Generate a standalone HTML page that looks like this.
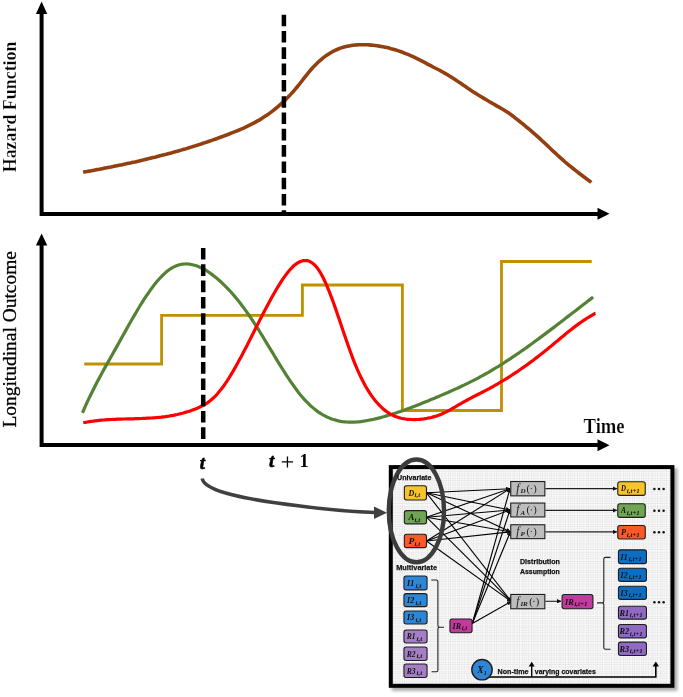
<!DOCTYPE html>
<html><head><meta charset="utf-8"><style>
html,body{margin:0;padding:0;background:#fff;width:683px;height:697px;overflow:hidden}
svg{display:block;will-change:transform}

.s{font-family:"Liberation Sans",sans-serif}
</style></head><body>
<svg width="683" height="697" viewBox="0 0 683 697">
<path d="M41.6,13 V214 H598" fill="none" stroke="#000" stroke-width="4"/>
<path d="M35.9,14 L41.6,1.5 L47.3,14 Z" fill="#000"/>
<path d="M597.5,207.8 L609.5,213.8 L597.5,219.8 Z" fill="#000"/>
<path d="M41.6,244 V445 H598" fill="none" stroke="#000" stroke-width="4"/>
<path d="M35.9,245.5 L41.6,233.5 L47.3,245.5 Z" fill="#000"/>
<path d="M597.5,439.2 L609.5,445.2 L597.5,451.2 Z" fill="#000"/>
<path d="M83.1,172.2 L85.1,171.8 L87.1,171.5 L89.1,171.1 L91.1,170.8 L93.1,170.4 L95.1,170.0 L97.1,169.6 L99.1,169.3 L101.1,168.9 L103.1,168.5 L105.1,168.1 L107.1,167.7 L109.1,167.3 L111.1,167.0 L113.1,166.6 L115.1,166.1 L117.1,165.7 L119.1,165.3 L121.1,164.9 L123.1,164.5 L125.1,164.1 L127.1,163.6 L129.1,163.2 L131.1,162.8 L133.1,162.3 L135.1,161.9 L137.1,161.4 L139.1,161.0 L141.1,160.5 L143.1,160.1 L145.1,159.6 L147.1,159.1 L149.1,158.6 L151.1,158.1 L153.1,157.6 L155.1,157.2 L157.1,156.6 L159.1,156.1 L161.1,155.6 L163.1,155.1 L165.1,154.6 L167.1,154.0 L169.1,153.5 L171.1,153.0 L173.1,152.4 L175.1,151.8 L177.1,151.3 L179.1,150.7 L181.1,150.1 L183.1,149.5 L185.1,149.0 L187.1,148.4 L189.1,147.7 L191.1,147.1 L193.1,146.5 L195.1,145.9 L197.1,145.3 L199.1,144.6 L201.1,144.0 L203.1,143.3 L205.1,142.6 L207.1,142.0 L209.1,141.3 L211.1,140.6 L213.1,139.9 L215.1,139.2 L217.1,138.5 L219.1,137.7 L221.1,137.0 L223.1,136.3 L225.1,135.5 L227.1,134.8 L229.1,134.0 L231.1,133.2 L233.1,132.4 L235.1,131.6 L237.1,130.8 L239.1,130.0 L241.1,129.1 L243.1,128.3 L245.1,127.3 L247.1,126.4 L249.1,125.4 L251.1,124.4 L253.1,123.4 L255.1,122.3 L257.1,121.2 L259.1,120.1 L261.1,118.9 L263.1,117.6 L265.1,116.3 L267.1,115.0 L269.1,113.6 L271.1,112.1 L273.1,110.6 L275.1,109.0 L277.1,107.4 L279.1,105.6 L281.1,103.9 L283.1,102.0 L285.1,100.1 L287.1,98.1 L289.1,96.1 L291.1,93.9 L293.1,91.7 L295.1,89.4 L297.1,87.0 L299.1,84.5 L301.1,82.0 L303.1,79.4 L305.1,76.8 L307.1,74.3 L309.1,71.8 L311.1,69.5 L313.1,67.3 L315.1,65.2 L317.1,63.2 L319.1,61.3 L321.1,59.6 L323.1,57.9 L325.1,56.4 L327.1,55.0 L329.1,53.7 L331.1,52.5 L333.1,51.4 L335.1,50.4 L337.1,49.5 L339.1,48.7 L341.1,47.9 L343.1,47.3 L345.1,46.7 L347.1,46.3 L349.1,45.9 L351.1,45.5 L353.1,45.2 L355.1,45.0 L357.1,44.9 L359.1,44.8 L361.1,44.7 L363.1,44.7 L365.1,44.7 L367.1,44.8 L369.1,44.9 L371.1,45.1 L373.1,45.3 L375.1,45.5 L377.1,45.8 L379.1,46.1 L381.1,46.4 L383.1,46.8 L385.1,47.2 L387.1,47.6 L389.1,48.1 L391.1,48.7 L393.1,49.2 L395.1,49.8 L397.1,50.4 L399.1,51.1 L401.1,51.8 L403.1,52.5 L405.1,53.3 L407.1,54.1 L409.1,54.9 L411.1,55.8 L413.1,56.7 L415.1,57.6 L417.1,58.6 L419.1,59.6 L421.1,60.6 L423.1,61.7 L425.1,62.7 L427.1,63.8 L429.1,64.8 L431.1,65.9 L433.1,67.0 L435.1,68.0 L437.1,69.0 L439.1,70.0 L441.1,71.1 L443.1,72.2 L445.1,73.4 L447.1,74.5 L449.1,75.8 L451.1,77.0 L453.1,78.3 L455.1,79.6 L457.1,80.9 L459.1,82.3 L461.1,83.6 L463.1,85.0 L465.1,86.3 L467.1,87.7 L469.1,89.1 L471.1,90.4 L473.1,91.7 L475.1,93.0 L477.1,94.3 L479.1,95.5 L481.1,96.7 L483.1,97.9 L485.1,99.1 L487.1,100.3 L489.1,101.5 L491.1,102.6 L493.1,103.8 L495.1,104.9 L497.1,106.1 L499.1,107.2 L501.1,108.3 L503.1,109.5 L505.1,110.7 L507.1,112.0 L509.1,113.3 L511.1,114.7 L513.1,116.2 L515.1,117.8 L517.1,119.4 L519.1,121.0 L521.1,122.6 L523.1,124.2 L525.1,125.8 L527.1,127.5 L529.1,129.1 L531.1,130.8 L533.1,132.6 L535.1,134.3 L537.1,136.1 L539.1,137.9 L541.1,139.8 L543.1,141.7 L545.1,143.5 L547.1,145.4 L549.1,147.3 L551.1,149.2 L553.1,151.1 L555.1,152.9 L557.1,154.8 L559.1,156.6 L561.1,158.4 L563.1,160.2 L565.1,162.0 L567.1,163.7 L569.1,165.3 L571.1,166.9 L573.1,168.5 L575.1,170.1 L577.1,171.7 L579.1,173.2 L581.1,174.7 L583.1,176.2 L585.1,177.7 L587.1,179.2 L589.1,180.8 L591.1,182.3 L591.2,182.4" fill="none" stroke="#933f10" stroke-width="3.6" stroke-linecap="butt"/>
<path d="M84.3,364 H161.6 V315.3 H302.4 V285 H402.4 V410.5 H501.5 V261.5 H591.7" fill="none" stroke="#bf9000" stroke-width="2.8"/>
<path d="M82.5,412.8 L84.5,408.2 L86.5,403.7 L88.5,399.4 L90.5,395.2 L92.5,391.2 L94.5,387.2 L96.5,383.3 L98.5,379.5 L100.5,375.8 L102.5,372.1 L104.5,368.4 L106.5,364.9 L108.5,361.3 L110.5,357.7 L112.5,354.2 L114.5,350.6 L116.5,347.1 L118.5,343.5 L120.5,339.9 L122.5,336.3 L124.5,332.7 L126.5,329.1 L128.5,325.5 L130.5,322.0 L132.5,318.5 L134.5,315.1 L136.5,311.7 L138.5,308.3 L140.5,305.0 L142.5,301.8 L144.5,298.7 L146.5,295.7 L148.5,292.8 L150.5,289.9 L152.5,287.2 L154.5,284.6 L156.5,282.1 L158.5,279.7 L160.5,277.5 L162.5,275.5 L164.5,273.6 L166.5,271.8 L168.5,270.2 L170.5,268.8 L172.5,267.6 L174.5,266.6 L176.5,265.7 L178.5,265.0 L180.5,264.5 L182.5,264.2 L184.5,264.0 L186.5,263.9 L188.5,264.0 L190.5,264.3 L192.5,264.7 L194.5,265.2 L196.5,265.8 L198.5,266.6 L200.5,267.5 L202.5,268.5 L204.5,269.5 L206.5,270.7 L208.5,272.0 L210.5,273.4 L212.5,274.9 L214.5,276.4 L216.5,278.0 L218.5,279.7 L220.5,281.5 L222.5,283.3 L224.5,285.3 L226.5,287.3 L228.5,289.4 L230.5,291.5 L232.5,293.8 L234.5,296.1 L236.5,298.5 L238.5,301.0 L240.5,303.5 L242.5,306.2 L244.5,308.9 L246.5,311.6 L248.5,314.5 L250.5,317.4 L252.5,320.4 L254.5,323.5 L256.5,326.6 L258.5,329.7 L260.5,333.0 L262.5,336.2 L264.5,339.5 L266.5,342.8 L268.5,346.1 L270.5,349.4 L272.5,352.7 L274.5,356.0 L276.5,359.3 L278.5,362.6 L280.5,365.8 L282.5,369.0 L284.5,372.2 L286.5,375.3 L288.5,378.3 L290.5,381.3 L292.5,384.2 L294.5,387.0 L296.5,389.7 L298.5,392.4 L300.5,394.9 L302.5,397.3 L304.5,399.6 L306.5,401.7 L308.5,403.7 L310.5,405.7 L312.5,407.4 L314.5,409.1 L316.5,410.6 L318.5,412.1 L320.5,413.4 L322.5,414.6 L324.5,415.7 L326.5,416.7 L328.5,417.6 L330.5,418.5 L332.5,419.2 L334.5,419.8 L336.5,420.4 L338.5,420.9 L340.5,421.3 L342.5,421.6 L344.5,421.8 L346.5,422.0 L348.5,422.1 L350.5,422.2 L352.5,422.2 L354.5,422.1 L356.5,422.0 L358.5,421.8 L360.5,421.6 L362.5,421.3 L364.5,421.0 L366.5,420.7 L368.5,420.3 L370.5,419.9 L372.5,419.5 L374.5,419.1 L376.5,418.6 L378.5,418.1 L380.5,417.6 L382.5,417.0 L384.5,416.5 L386.5,415.9 L388.5,415.3 L390.5,414.7 L392.5,414.1 L394.5,413.4 L396.5,412.8 L398.5,412.1 L400.5,411.4 L402.5,410.7 L404.5,410.0 L406.5,409.3 L408.5,408.5 L410.5,407.8 L412.5,407.0 L414.5,406.3 L416.5,405.5 L418.5,404.7 L420.5,403.9 L422.5,403.1 L424.5,402.3 L426.5,401.5 L428.5,400.7 L430.5,399.8 L432.5,399.0 L434.5,398.2 L436.5,397.3 L438.5,396.5 L440.5,395.6 L442.5,394.8 L444.5,393.9 L446.5,393.1 L448.5,392.2 L450.5,391.3 L452.5,390.4 L454.5,389.5 L456.5,388.6 L458.5,387.7 L460.5,386.8 L462.5,385.8 L464.5,384.9 L466.5,383.9 L468.5,382.9 L470.5,381.9 L472.5,380.9 L474.5,379.9 L476.5,378.9 L478.5,377.8 L480.5,376.7 L482.5,375.6 L484.5,374.5 L486.5,373.4 L488.5,372.3 L490.5,371.1 L492.5,369.9 L494.5,368.7 L496.5,367.5 L498.5,366.3 L500.5,365.0 L502.5,363.8 L504.5,362.5 L506.5,361.2 L508.5,359.9 L510.5,358.6 L512.5,357.2 L514.5,355.9 L516.5,354.5 L518.5,353.2 L520.5,351.8 L522.5,350.4 L524.5,349.0 L526.5,347.6 L528.5,346.1 L530.5,344.7 L532.5,343.3 L534.5,341.8 L536.5,340.3 L538.5,338.9 L540.5,337.4 L542.5,335.9 L544.5,334.4 L546.5,332.9 L548.5,331.4 L550.5,329.9 L552.5,328.4 L554.5,326.9 L556.5,325.3 L558.5,323.8 L560.5,322.3 L562.5,320.7 L564.5,319.2 L566.5,317.6 L568.5,316.1 L570.5,314.6 L572.5,313.0 L574.5,311.5 L576.5,309.9 L578.5,308.4 L580.5,306.8 L582.5,305.3 L584.5,303.7 L586.5,302.2 L588.5,300.6 L590.5,299.1 L592.5,297.6 L593.1,297.1" fill="none" stroke="#548235" stroke-width="3.2"/>
<path d="M83.3,422.7 L85.3,422.3 L87.3,422.0 L89.3,421.6 L91.3,421.3 L93.3,421.1 L95.3,420.8 L97.3,420.6 L99.3,420.4 L101.3,420.2 L103.3,420.0 L105.3,419.8 L107.3,419.7 L109.3,419.6 L111.3,419.5 L113.3,419.4 L115.3,419.3 L117.3,419.2 L119.3,419.1 L121.3,419.1 L123.3,419.0 L125.3,419.0 L127.3,418.9 L129.3,418.9 L131.3,418.8 L133.3,418.8 L135.3,418.7 L137.3,418.6 L139.3,418.6 L141.3,418.5 L143.3,418.4 L145.3,418.3 L147.3,418.2 L149.3,418.1 L151.3,418.0 L153.3,417.8 L155.3,417.7 L157.3,417.5 L159.3,417.3 L161.3,417.1 L163.3,416.8 L165.3,416.6 L167.3,416.3 L169.3,416.0 L171.3,415.6 L173.3,415.3 L175.3,414.9 L177.3,414.5 L179.3,414.0 L181.3,413.5 L183.3,413.0 L185.3,412.4 L187.3,411.8 L189.3,411.2 L191.3,410.5 L193.3,409.7 L195.3,409.0 L197.3,408.2 L199.3,407.3 L201.3,406.3 L203.3,405.3 L205.3,404.1 L207.3,402.8 L209.3,401.4 L211.3,399.8 L213.3,398.0 L215.3,396.1 L217.3,394.0 L219.3,391.6 L221.3,389.1 L223.3,386.5 L225.3,383.6 L227.3,380.6 L229.3,377.5 L231.3,374.2 L233.3,370.9 L235.3,367.4 L237.3,363.8 L239.3,360.1 L241.3,356.4 L243.3,352.6 L245.3,348.8 L247.3,344.9 L249.3,340.9 L251.3,337.0 L253.3,333.0 L255.3,329.0 L257.3,325.1 L259.3,321.1 L261.3,317.2 L263.3,313.3 L265.3,309.5 L267.3,305.7 L269.3,301.9 L271.3,298.3 L273.3,294.7 L275.3,291.2 L277.3,287.8 L279.3,284.6 L281.3,281.4 L283.3,278.4 L285.3,275.6 L287.3,273.0 L289.3,270.5 L291.3,268.3 L293.3,266.3 L295.3,264.6 L297.3,263.1 L299.3,262.0 L301.3,261.2 L303.3,260.7 L305.3,260.5 L307.3,260.7 L309.3,261.3 L311.3,262.4 L313.3,263.8 L315.3,265.7 L317.3,268.0 L319.3,270.9 L321.3,274.2 L323.3,278.0 L325.3,282.2 L327.3,286.8 L329.3,291.7 L331.3,296.9 L333.3,302.3 L335.3,307.9 L337.3,313.7 L339.3,319.6 L341.3,325.5 L343.3,331.4 L345.3,337.3 L347.3,343.1 L349.3,348.8 L351.3,354.3 L353.3,359.6 L355.3,364.6 L357.3,369.4 L359.3,373.8 L361.3,378.1 L363.3,382.0 L365.3,385.7 L367.3,389.2 L369.3,392.4 L371.3,395.4 L373.3,398.1 L375.3,400.7 L377.3,403.0 L379.3,405.2 L381.3,407.2 L383.3,409.0 L385.3,410.6 L387.3,412.0 L389.3,413.3 L391.3,414.5 L393.3,415.5 L395.3,416.4 L397.3,417.1 L399.3,417.7 L401.3,418.3 L403.3,418.7 L405.3,419.0 L407.3,419.3 L409.3,419.4 L411.3,419.5 L413.3,419.6 L415.3,419.6 L417.3,419.5 L419.3,419.4 L421.3,419.2 L423.3,419.0 L425.3,418.7 L427.3,418.3 L429.3,417.9 L431.3,417.5 L433.3,416.9 L435.3,416.4 L437.3,415.7 L439.3,415.0 L441.3,414.2 L443.3,413.3 L445.3,412.4 L447.3,411.4 L449.3,410.3 L451.3,409.2 L453.3,408.0 L455.3,406.9 L457.3,405.7 L459.3,404.5 L461.3,403.4 L463.3,402.2 L465.3,401.1 L467.3,400.0 L469.3,398.9 L471.3,397.8 L473.3,396.8 L475.3,395.8 L477.3,394.8 L479.3,393.8 L481.3,392.7 L483.3,391.7 L485.3,390.7 L487.3,389.6 L489.3,388.6 L491.3,387.5 L493.3,386.4 L495.3,385.2 L497.3,384.1 L499.3,382.9 L501.3,381.7 L503.3,380.5 L505.3,379.3 L507.3,378.1 L509.3,376.8 L511.3,375.5 L513.3,374.2 L515.3,372.9 L517.3,371.6 L519.3,370.2 L521.3,368.8 L523.3,367.4 L525.3,366.0 L527.3,364.6 L529.3,363.1 L531.3,361.6 L533.3,360.2 L535.3,358.6 L537.3,357.1 L539.3,355.6 L541.3,354.0 L543.3,352.4 L545.3,350.8 L547.3,349.2 L549.3,347.5 L551.3,345.9 L553.3,344.2 L555.3,342.5 L557.3,340.9 L559.3,339.2 L561.3,337.5 L563.3,335.9 L565.3,334.2 L567.3,332.6 L569.3,331.0 L571.3,329.4 L573.3,327.9 L575.3,326.4 L577.3,324.9 L579.3,323.4 L581.3,322.0 L583.3,320.6 L585.3,319.3 L587.3,318.0 L589.3,316.8 L591.3,315.6 L593.3,314.5 L595.3,313.4 L595.4,313.4" fill="none" stroke="#ff0000" stroke-width="3.2"/>
<line x1="283.9" y1="14.7" x2="283.9" y2="214" stroke="#000" stroke-width="4.5" stroke-dasharray="11.6,4.7"/>
<line x1="203.2" y1="248" x2="203.2" y2="447" stroke="#000" stroke-width="4.5" stroke-dasharray="11.6,4.7"/>
<text x="0" y="0" transform="translate(16,172.3) rotate(-90)" font-family="Liberation Serif" font-weight="bold" font-size="19" fill="#000" stroke="#fff" stroke-width="0.2" paint-order="fill" textLength="130.8" lengthAdjust="spacingAndGlyphs">Hazard Function</text>
<text x="0" y="0" transform="translate(15.6,427.6) rotate(-90)" font-family="Liberation Serif" font-size="19.5" fill="#000" stroke="#000" stroke-width="0.3" textLength="176.5" lengthAdjust="spacingAndGlyphs">Longitudinal Outcome</text>
<text x="583.6" y="433.2" font-family="Liberation Serif" font-weight="bold" font-size="20" fill="#000" stroke="#fff" stroke-width="0.2" paint-order="fill" textLength="41" lengthAdjust="spacingAndGlyphs">Time</text>
<text x="199.8" y="468.7" font-family="Liberation Serif" font-weight="bold" font-style="italic" font-size="19" fill="#000" stroke="#000" stroke-width="0.6">t</text>
<text x="268.9" y="467.4" font-family="Liberation Serif" font-weight="bold" font-style="italic" font-size="19" fill="#000" stroke="#000" stroke-width="0.6">t</text>
<path d="M281.8,461.9 H293.1 M287.45,456.6 V467.4" stroke="#000" stroke-width="1.3"/>
<text x="299.5" y="467.3" font-family="Liberation Serif" font-weight="bold" font-size="18.5" fill="#000">1</text>
<path d="M202.2,478.5 C204,492 250,500 300,506 C330,510 355,512 375,512.4" fill="none" stroke="#404040" stroke-width="3.5"/>
<path d="M374,506.5 L387,512.7 L374,519 Z" fill="#404040"/>
<defs><pattern id="grid" x="393" y="469" width="9.2" height="9.2" patternUnits="userSpaceOnUse"><rect width="9.2" height="9.2" fill="#fdfdfd"/><path d="M2.3,0 V9.2 M4.6,0 V9.2 M6.9,0 V9.2 M0,2.3 H9.2 M0,4.6 H9.2 M0,6.9 H9.2" stroke="#e6e6e6" stroke-width="0.7"/><path d="M0,0 V9.2 M0,0 H9.2" stroke="#d9d9d9" stroke-width="0.8"/></pattern><filter id="sh" x="-5%" y="-5%" width="115%" height="115%"><feGaussianBlur stdDeviation="1.5"/></filter><marker id="ah" viewBox="0 0 6 6" refX="5.5" refY="3" markerWidth="4" markerHeight="4" orient="auto"><path d="M0,0 L6,3 L0,6 Z" fill="#111"/></marker></defs>
<rect x="391.8" y="468.1" width="285.59999999999997" height="222.69999999999993" fill="#888" filter="url(#sh)" opacity="0.7"/>
<rect x="390.8" y="467.1" width="281.59999999999997" height="218.69999999999993" fill="url(#grid)" stroke="#000" stroke-width="4"/>
<line x1="426.5" y1="492.8" x2="510" y2="488.7" stroke="#000" stroke-width="1.1" marker-end="url(#ah)"/>
<line x1="426.5" y1="492.8" x2="510" y2="510" stroke="#000" stroke-width="1.1" marker-end="url(#ah)"/>
<line x1="426.5" y1="492.8" x2="510.4" y2="531.8" stroke="#000" stroke-width="1.1" marker-end="url(#ah)"/>
<line x1="426.5" y1="492.8" x2="511.2" y2="601.5" stroke="#000" stroke-width="1.1" marker-end="url(#ah)"/>
<line x1="426.5" y1="517.2" x2="510" y2="488.7" stroke="#000" stroke-width="1.1" marker-end="url(#ah)"/>
<line x1="426.5" y1="517.2" x2="510" y2="510" stroke="#000" stroke-width="1.1" marker-end="url(#ah)"/>
<line x1="426.5" y1="517.2" x2="510.4" y2="531.8" stroke="#000" stroke-width="1.1" marker-end="url(#ah)"/>
<line x1="426.5" y1="517.2" x2="511.2" y2="601.5" stroke="#000" stroke-width="1.1" marker-end="url(#ah)"/>
<line x1="426.5" y1="541" x2="510" y2="488.7" stroke="#000" stroke-width="1.1" marker-end="url(#ah)"/>
<line x1="426.5" y1="541" x2="510" y2="510" stroke="#000" stroke-width="1.1" marker-end="url(#ah)"/>
<line x1="426.5" y1="541" x2="510.4" y2="531.8" stroke="#000" stroke-width="1.1" marker-end="url(#ah)"/>
<line x1="426.5" y1="541" x2="511.2" y2="601.5" stroke="#000" stroke-width="1.1" marker-end="url(#ah)"/>
<line x1="472.3" y1="623.5" x2="510" y2="488.7" stroke="#000" stroke-width="1.1" marker-end="url(#ah)"/>
<line x1="472.3" y1="623.5" x2="510" y2="510" stroke="#000" stroke-width="1.1" marker-end="url(#ah)"/>
<line x1="472.3" y1="623.5" x2="510.4" y2="531.8" stroke="#000" stroke-width="1.1" marker-end="url(#ah)"/>
<line x1="472.3" y1="623.5" x2="511.2" y2="601.5" stroke="#000" stroke-width="1.1" marker-end="url(#ah)"/>
<ellipse cx="416.4" cy="510.9" rx="27.6" ry="51.4" fill="none" stroke="#3c3c3c" stroke-width="4.4"/>
<rect x="404.35" y="485.75" width="22.10" height="14.30" rx="2.2" fill="#f7c42a" stroke="#1e1e1e" stroke-width="1.1"/>
<text x="408.5" y="495.8" font-family="Liberation Serif" font-style="italic" font-weight="bold" font-size="9" fill="#111" textLength="5.8" lengthAdjust="spacingAndGlyphs">D</text>
<text x="414.6" y="497.4" font-family="Liberation Serif" font-style="italic" font-weight="bold" font-size="6.6" fill="#111" textLength="5.6" lengthAdjust="spacingAndGlyphs">i,t</text>
<rect x="404.35" y="510.65" width="22.10" height="13.20" rx="2.2" fill="#6fa553" stroke="#1e1e1e" stroke-width="1.1"/>
<text x="408.5" y="520.1" font-family="Liberation Serif" font-style="italic" font-weight="bold" font-size="9" fill="#111" textLength="5.8" lengthAdjust="spacingAndGlyphs">A</text>
<text x="414.6" y="521.8" font-family="Liberation Serif" font-style="italic" font-weight="bold" font-size="6.6" fill="#111" textLength="5.6" lengthAdjust="spacingAndGlyphs">i,t</text>
<rect x="404.35" y="534.25" width="22.10" height="13.40" rx="2.2" fill="#fb5a28" stroke="#1e1e1e" stroke-width="1.1"/>
<text x="408.5" y="543.9" font-family="Liberation Serif" font-style="italic" font-weight="bold" font-size="9" fill="#111" textLength="5.8" lengthAdjust="spacingAndGlyphs">P</text>
<text x="414.6" y="545.5" font-family="Liberation Serif" font-style="italic" font-weight="bold" font-size="6.6" fill="#111" textLength="5.6" lengthAdjust="spacingAndGlyphs">i,t</text>
<rect x="403.95" y="576.05" width="23.10" height="13.80" rx="2.2" fill="#2e87d6" stroke="#1e1e1e" stroke-width="1.1"/>
<text x="407.1" y="585.9" font-family="Liberation Serif" font-style="italic" font-weight="bold" font-size="9" fill="#111" textLength="7.1" lengthAdjust="spacingAndGlyphs">I1</text>
<text x="415.4" y="587.5" font-family="Liberation Serif" font-style="italic" font-weight="bold" font-size="6.6" fill="#111" textLength="5.8" lengthAdjust="spacingAndGlyphs">i,t</text>
<rect x="403.95" y="593.65" width="23.10" height="13.00" rx="2.2" fill="#2e87d6" stroke="#1e1e1e" stroke-width="1.1"/>
<text x="407.1" y="603.1" font-family="Liberation Serif" font-style="italic" font-weight="bold" font-size="9" fill="#111" textLength="7.1" lengthAdjust="spacingAndGlyphs">I2</text>
<text x="415.4" y="604.7" font-family="Liberation Serif" font-style="italic" font-weight="bold" font-size="6.6" fill="#111" textLength="5.8" lengthAdjust="spacingAndGlyphs">i,t</text>
<rect x="403.95" y="611.05" width="23.10" height="13.00" rx="2.2" fill="#2e87d6" stroke="#1e1e1e" stroke-width="1.1"/>
<text x="407.1" y="620.4" font-family="Liberation Serif" font-style="italic" font-weight="bold" font-size="9" fill="#111" textLength="7.1" lengthAdjust="spacingAndGlyphs">I3</text>
<text x="415.4" y="622.0" font-family="Liberation Serif" font-style="italic" font-weight="bold" font-size="6.6" fill="#111" textLength="5.8" lengthAdjust="spacingAndGlyphs">i,t</text>
<rect x="403.95" y="629.95" width="23.10" height="13.10" rx="2.2" fill="#a47fc6" stroke="#1e1e1e" stroke-width="1.1"/>
<text x="406.7" y="639.4" font-family="Liberation Serif" font-style="italic" font-weight="bold" font-size="9" fill="#111" textLength="8.8" lengthAdjust="spacingAndGlyphs">R1</text>
<text x="416.4" y="641.0" font-family="Liberation Serif" font-style="italic" font-weight="bold" font-size="6.6" fill="#111" textLength="5.8" lengthAdjust="spacingAndGlyphs">i,t</text>
<rect x="403.95" y="647.05" width="23.10" height="13.40" rx="2.2" fill="#a47fc6" stroke="#1e1e1e" stroke-width="1.1"/>
<text x="406.7" y="656.6" font-family="Liberation Serif" font-style="italic" font-weight="bold" font-size="9" fill="#111" textLength="8.8" lengthAdjust="spacingAndGlyphs">R2</text>
<text x="416.4" y="658.2" font-family="Liberation Serif" font-style="italic" font-weight="bold" font-size="6.6" fill="#111" textLength="5.8" lengthAdjust="spacingAndGlyphs">i,t</text>
<rect x="403.95" y="664.05" width="23.10" height="13.50" rx="2.2" fill="#a47fc6" stroke="#1e1e1e" stroke-width="1.1"/>
<text x="406.7" y="673.7" font-family="Liberation Serif" font-style="italic" font-weight="bold" font-size="9" fill="#111" textLength="8.8" lengthAdjust="spacingAndGlyphs">R3</text>
<text x="416.4" y="675.3" font-family="Liberation Serif" font-style="italic" font-weight="bold" font-size="6.6" fill="#111" textLength="5.8" lengthAdjust="spacingAndGlyphs">i,t</text>
<rect x="510.75" y="481.55" width="34.10" height="14.30" rx="0" fill="#bdbdbd" stroke="#1e1e1e" stroke-width="1.1"/>
<text x="516.3" y="492.1" font-family="Liberation Serif" font-style="italic" font-size="11.5" fill="#1a1a1a">f</text>
<text x="520.6" y="493.3" font-family="Liberation Serif" font-style="italic" font-weight="bold" font-size="7" fill="#1a1a1a">D</text>
<text x="526.6" y="492.0" font-family="Liberation Serif" font-size="10.5" fill="#1a1a1a">(</text>
<circle cx="531.3" cy="488.5" r="0.6" fill="#1a1a1a"/>
<text x="533.2" y="492.0" font-family="Liberation Serif" font-size="10.5" fill="#1a1a1a">)</text>
<rect x="510.75" y="503.05" width="34.10" height="13.90" rx="0" fill="#bdbdbd" stroke="#1e1e1e" stroke-width="1.1"/>
<text x="516.3" y="513.4" font-family="Liberation Serif" font-style="italic" font-size="11.5" fill="#1a1a1a">f</text>
<text x="520.6" y="514.6" font-family="Liberation Serif" font-style="italic" font-weight="bold" font-size="7" fill="#1a1a1a">A</text>
<text x="526.6" y="513.3" font-family="Liberation Serif" font-size="10.5" fill="#1a1a1a">(</text>
<circle cx="531.3" cy="509.8" r="0.6" fill="#1a1a1a"/>
<text x="533.2" y="513.3" font-family="Liberation Serif" font-size="10.5" fill="#1a1a1a">)</text>
<rect x="510.75" y="524.75" width="34.10" height="13.90" rx="0" fill="#bdbdbd" stroke="#1e1e1e" stroke-width="1.1"/>
<text x="516.3" y="535.1" font-family="Liberation Serif" font-style="italic" font-size="11.5" fill="#1a1a1a">f</text>
<text x="520.6" y="536.3" font-family="Liberation Serif" font-style="italic" font-weight="bold" font-size="7" fill="#1a1a1a">P</text>
<text x="526.6" y="535.0" font-family="Liberation Serif" font-size="10.5" fill="#1a1a1a">(</text>
<circle cx="531.3" cy="531.5" r="0.6" fill="#1a1a1a"/>
<text x="533.2" y="535.0" font-family="Liberation Serif" font-size="10.5" fill="#1a1a1a">)</text>
<rect x="510.75" y="594.45" width="34.10" height="14.30" rx="0" fill="#bdbdbd" stroke="#1e1e1e" stroke-width="1.1"/>
<text x="516.3" y="605.0" font-family="Liberation Serif" font-style="italic" font-size="11.5" fill="#1a1a1a">f</text>
<text x="520.4" y="606.2" font-family="Liberation Serif" font-style="italic" font-weight="bold" font-size="7" fill="#1a1a1a">IR</text>
<text x="529.2" y="604.9" font-family="Liberation Serif" font-size="10.5" fill="#1a1a1a">(</text>
<circle cx="533.9" cy="601.4" r="0.6" fill="#1a1a1a"/>
<text x="535.8" y="604.9" font-family="Liberation Serif" font-size="10.5" fill="#1a1a1a">)</text>
<rect x="449.95" y="618.95" width="22.10" height="13.80" rx="2.2" fill="#c33a9f" stroke="#1e1e1e" stroke-width="1.1"/>
<text x="452.6" y="628.7" font-family="Liberation Serif" font-style="italic" font-weight="bold" font-size="9" fill="#111" textLength="8.5" lengthAdjust="spacingAndGlyphs">IR</text>
<text x="461.7" y="630.3" font-family="Liberation Serif" font-style="italic" font-weight="bold" font-size="6.6" fill="#111" textLength="5.5" lengthAdjust="spacingAndGlyphs">i,t</text>
<rect x="562.05" y="594.45" width="30.90" height="14.30" rx="2.2" fill="#c33a9f" stroke="#1e1e1e" stroke-width="1.1"/>
<text x="564.9" y="604.5" font-family="Liberation Serif" font-style="italic" font-weight="bold" font-size="9" fill="#111" textLength="8.8" lengthAdjust="spacingAndGlyphs">IR</text>
<text x="574.4" y="606.1" font-family="Liberation Serif" font-style="italic" font-weight="bold" font-size="6.6" fill="#111" textLength="13.2" lengthAdjust="spacingAndGlyphs">i,t+1</text>
<line x1="545.4" y1="488.6" x2="616.8" y2="488.6" stroke="#222" stroke-width="1.1" marker-end="url(#ah)"/>
<line x1="545.4" y1="510.4" x2="616.8" y2="510.4" stroke="#222" stroke-width="1.1" marker-end="url(#ah)"/>
<line x1="545.4" y1="531.9" x2="616.8" y2="531.9" stroke="#222" stroke-width="1.1" marker-end="url(#ah)"/>
<line x1="545.4" y1="601.3" x2="561" y2="601.3" stroke="#222" stroke-width="1.1" marker-end="url(#ah)"/>
<rect x="617.75" y="481.75" width="27.50" height="13.60" rx="2.2" fill="#f7c42a" stroke="#1e1e1e" stroke-width="1.1"/>
<text x="621.0" y="491.4" font-family="Liberation Serif" font-style="italic" font-weight="bold" font-size="9" fill="#111" textLength="5.0" lengthAdjust="spacingAndGlyphs">D</text>
<text x="626.8" y="493.0" font-family="Liberation Serif" font-style="italic" font-weight="bold" font-size="6.6" fill="#111" textLength="13.0" lengthAdjust="spacingAndGlyphs">i,t+1</text>
<rect x="617.75" y="503.75" width="27.50" height="13.60" rx="2.2" fill="#6fa553" stroke="#1e1e1e" stroke-width="1.1"/>
<text x="621.0" y="513.4" font-family="Liberation Serif" font-style="italic" font-weight="bold" font-size="9" fill="#111" textLength="5.0" lengthAdjust="spacingAndGlyphs">A</text>
<text x="626.8" y="515.0" font-family="Liberation Serif" font-style="italic" font-weight="bold" font-size="6.6" fill="#111" textLength="13.0" lengthAdjust="spacingAndGlyphs">i,t+1</text>
<rect x="617.75" y="525.45" width="27.50" height="13.60" rx="2.2" fill="#fb5a28" stroke="#1e1e1e" stroke-width="1.1"/>
<text x="621.0" y="535.1" font-family="Liberation Serif" font-style="italic" font-weight="bold" font-size="9" fill="#111" textLength="5.0" lengthAdjust="spacingAndGlyphs">P</text>
<text x="626.8" y="536.8" font-family="Liberation Serif" font-style="italic" font-weight="bold" font-size="6.6" fill="#111" textLength="13.0" lengthAdjust="spacingAndGlyphs">i,t+1</text>
<rect x="618.45" y="549.85" width="28.00" height="13.80" rx="2.2" fill="#0a6fc4" stroke="#1e1e1e" stroke-width="1.1"/>
<text x="620.6" y="559.6" font-family="Liberation Serif" font-style="italic" font-weight="bold" font-size="9" fill="#111" textLength="7.0" lengthAdjust="spacingAndGlyphs">I1</text>
<text x="628.7" y="561.2" font-family="Liberation Serif" font-style="italic" font-weight="bold" font-size="6.6" fill="#111" textLength="13.2" lengthAdjust="spacingAndGlyphs">i,t+1</text>
<rect x="618.45" y="568.25" width="28.00" height="13.10" rx="2.2" fill="#0a6fc4" stroke="#1e1e1e" stroke-width="1.1"/>
<text x="620.6" y="577.7" font-family="Liberation Serif" font-style="italic" font-weight="bold" font-size="9" fill="#111" textLength="7.0" lengthAdjust="spacingAndGlyphs">I2</text>
<text x="628.7" y="579.3" font-family="Liberation Serif" font-style="italic" font-weight="bold" font-size="6.6" fill="#111" textLength="13.2" lengthAdjust="spacingAndGlyphs">i,t+1</text>
<rect x="618.45" y="586.25" width="28.00" height="13.10" rx="2.2" fill="#0a6fc4" stroke="#1e1e1e" stroke-width="1.1"/>
<text x="620.6" y="595.7" font-family="Liberation Serif" font-style="italic" font-weight="bold" font-size="9" fill="#111" textLength="7.0" lengthAdjust="spacingAndGlyphs">I3</text>
<text x="628.7" y="597.3" font-family="Liberation Serif" font-style="italic" font-weight="bold" font-size="6.6" fill="#111" textLength="13.2" lengthAdjust="spacingAndGlyphs">i,t+1</text>
<rect x="618.45" y="606.25" width="28.00" height="12.90" rx="2.2" fill="#8f6ac0" stroke="#1e1e1e" stroke-width="1.1"/>
<text x="619.5" y="615.6" font-family="Liberation Serif" font-style="italic" font-weight="bold" font-size="9" fill="#111" textLength="9.6" lengthAdjust="spacingAndGlyphs">R1</text>
<text x="629.8" y="617.2" font-family="Liberation Serif" font-style="italic" font-weight="bold" font-size="6.6" fill="#111" textLength="12.9" lengthAdjust="spacingAndGlyphs">i,t+1</text>
<rect x="618.45" y="624.45" width="28.00" height="13.40" rx="2.2" fill="#8f6ac0" stroke="#1e1e1e" stroke-width="1.1"/>
<text x="619.5" y="634.0" font-family="Liberation Serif" font-style="italic" font-weight="bold" font-size="9" fill="#111" textLength="9.6" lengthAdjust="spacingAndGlyphs">R2</text>
<text x="629.8" y="635.6" font-family="Liberation Serif" font-style="italic" font-weight="bold" font-size="6.6" fill="#111" textLength="12.9" lengthAdjust="spacingAndGlyphs">i,t+1</text>
<rect x="618.45" y="642.15" width="28.00" height="13.40" rx="2.2" fill="#8f6ac0" stroke="#1e1e1e" stroke-width="1.1"/>
<text x="619.5" y="651.8" font-family="Liberation Serif" font-style="italic" font-weight="bold" font-size="9" fill="#111" textLength="9.6" lengthAdjust="spacingAndGlyphs">R3</text>
<text x="629.8" y="653.4" font-family="Liberation Serif" font-style="italic" font-weight="bold" font-size="6.6" fill="#111" textLength="12.9" lengthAdjust="spacingAndGlyphs">i,t+1</text>
<circle cx="654.4" cy="489.1" r="1.25" fill="#111"/>
<circle cx="659" cy="489.1" r="1.25" fill="#111"/>
<circle cx="663.6" cy="489.1" r="1.25" fill="#111"/>
<circle cx="654.4" cy="510.8" r="1.25" fill="#111"/>
<circle cx="659" cy="510.8" r="1.25" fill="#111"/>
<circle cx="663.6" cy="510.8" r="1.25" fill="#111"/>
<circle cx="654.4" cy="532.3" r="1.25" fill="#111"/>
<circle cx="659" cy="532.3" r="1.25" fill="#111"/>
<circle cx="663.6" cy="532.3" r="1.25" fill="#111"/>
<circle cx="654.4" cy="602.2" r="1.25" fill="#111"/>
<circle cx="659" cy="602.2" r="1.25" fill="#111"/>
<circle cx="663.6" cy="602.2" r="1.25" fill="#111"/>
<path d="M431.3,580 H436.3 Q437.9,580 437.9,581.6 V625.6 Q437.9,627.2 439.5,627.2 H444 M439.5,627.2 Q437.9,627.2 437.9,628.8 V670.2 Q437.9,671.8 436.3,671.8 H431.6" fill="none" stroke="#222" stroke-width="1.1"/>
<path d="M610.5,557.4 H605.4 Q603.8,557.4 603.8,559 V601.3 Q603.8,602.9 602.2,602.9 H597 M602.2,602.9 Q603.8,602.9 603.8,604.5 V647.7 Q603.8,649.3 605.4,649.3 H610.5" fill="none" stroke="#222" stroke-width="1.1"/>
<text x="397.1" y="479.8" font-family="Liberation Sans" font-weight="bold" font-size="8" fill="#111" stroke="#111" stroke-width="0.25" textLength="34.3" lengthAdjust="spacingAndGlyphs">Univariate</text>
<text x="396.2" y="569.5" font-family="Liberation Sans" font-weight="bold" font-size="8" fill="#111" stroke="#111" stroke-width="0.25" textLength="40.8" lengthAdjust="spacingAndGlyphs">Multivariate</text>
<text x="520" y="563.9" font-family="Liberation Sans" font-weight="bold" font-size="7.6" fill="#111" stroke="#111" stroke-width="0.25" textLength="39.8" lengthAdjust="spacingAndGlyphs">Distribution</text>
<text x="520" y="573.7" font-family="Liberation Sans" font-weight="bold" font-size="7.6" fill="#111" stroke="#111" stroke-width="0.25" textLength="39.8" lengthAdjust="spacingAndGlyphs">Assumption</text>
<path d="M485,677 H655.8 V665" fill="none" stroke="#000" stroke-width="1.6"/>
<path d="M652.6,666.5 L655.8,661.5 L659,666.5 Z" fill="#000"/>
<path d="M531.7,677 V665" fill="none" stroke="#000" stroke-width="1.4"/>
<path d="M528.7,666.5 L531.7,661.8 L534.7,666.5 Z" fill="#000"/>
<circle cx="482" cy="669.7" r="10.2" fill="#2e87d6" stroke="#1e1e1e" stroke-width="1.4"/>
<text x="477.3" y="672.9" font-family="Liberation Serif" font-style="italic" font-weight="bold" font-size="9.5" fill="#111">X<tspan font-size="6.2" dy="1.6">1</tspan></text>
<text x="497.5" y="673.8" font-family="Liberation Sans" font-weight="bold" font-size="7.6" fill="#111" stroke="#111" stroke-width="0.25" textLength="31" lengthAdjust="spacingAndGlyphs">Non-time</text>
<text x="534.8" y="673.8" font-family="Liberation Sans" font-weight="bold" font-size="7.6" fill="#111" stroke="#111" stroke-width="0.25" textLength="61" lengthAdjust="spacingAndGlyphs">varying covariates</text>
</svg>
</body></html>
